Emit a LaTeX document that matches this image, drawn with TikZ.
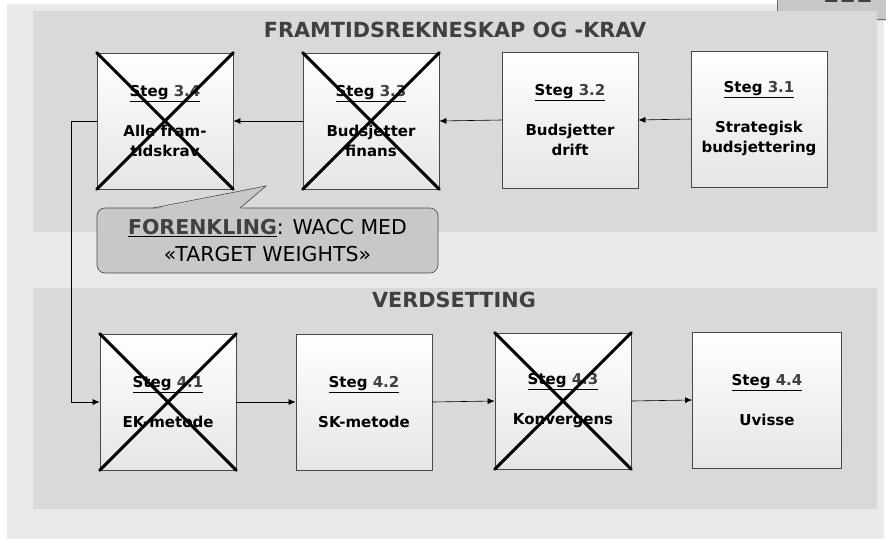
\documentclass[tikz,border=0pt]{standalone}
\usepackage{fontspec}
\setmainfont{DejaVu Sans}
\usepackage{tikz}
\usetikzlibrary{arrows.meta, positioning}
\definecolor{outerbg}{RGB}{234,234,234}
\definecolor{panelbg}{RGB}{217,217,217}
\definecolor{calloutfill}{RGB}{200,200,200}
\definecolor{titleink}{RGB}{64,64,64}
\definecolor{edgeink}{RGB}{72,72,72}
\tikzset{
  panel/.style={
    fill=panelbg,
    draw=none,
    anchor=north west,
    inner sep=0pt,
    outer sep=0pt
  },
  paneltitle/.style={
    font=\bfseries\fontsize{20.8}{24}\selectfont,
    text=titleink
  },
  stepbox/.style={
    draw=edgeink,
    thick,
    top color=white,
    bottom color=black!10,
    align=center,
    minimum width=136pt,
    minimum height=136pt,
    inner sep=2pt,
    font=\bfseries\fontsize{15}{20}\selectfont,
    text=black
  },
  callout/.style={
    draw=edgeink,
    semithick,
    rounded corners=8pt,
    fill=calloutfill,
    align=center,
    minimum width=341pt,
    minimum height=65pt,
    font=\fontsize{20.5}{27}\selectfont
  },
  tag/.style={
    draw=black!80,
    semithick,
    rounded corners=10pt,
    fill=calloutfill,
    minimum width=140pt,
    minimum height=41pt,
    inner sep=0pt,
    text height=24pt,
    text depth=17pt,
    font=\bfseries\fontsize{24}{26}\selectfont,
    text=titleink
  },
  arrow/.style={-{Latex[length=7pt,width=6pt]}, semithick, draw=black},
  cross/.style={line width=3pt, draw=black, line cap=round}
}

\begin{document}
\begin{tikzpicture}[x=1pt,y=-1pt]
    \clip (0,0) rectangle (886,539);
    \node[panel, fill=outerbg, minimum width=877pt, minimum height=535pt] (bg) at (7,4) {};
    \node[tag, anchor=south west] (tagbox) at (777,20) {111};

    % framtidsrekneskap
    \node[panel, minimum width=844pt, minimum height=221pt] (toppanel) at (33,11) {};
    \node[paneltitle] (toptitle) at (455,30) {FRAMTIDSREKNESKAP OG -KRAV};
    \node[stepbox] (s34) at (165,121) {\underline{Steg \textcolor{titleink}{3.4}}\\[20pt]Alle fram-\\tidskrav};
    \node[stepbox] (s33) at (371,121) {\underline{Steg \textcolor{titleink}{3.3}}\\[20pt]Budsjetter\\finans};
    \node[stepbox] (s32) at (570,120) {\underline{Steg \textcolor{titleink}{3.2}}\\[20pt]Budsjetter\\drift};
    \node[stepbox] (s31) at (759,119) {\underline{Steg \textcolor{titleink}{3.1}}\\[20pt]Strategisk\\budsjettering};

    % verdsetting
    \node[panel, minimum width=844pt, minimum height=221pt] (botpanel) at (33,288) {};
    \node[paneltitle] (bottitle) at (454,300) {VERDSETTING};
    \node[stepbox] (s41) at (168,402) {\underline{Steg \textcolor{titleink}{4.1}}\\[20pt]EK-metode};
    \node[stepbox] (s42) at (364,402) {\underline{Steg \textcolor{titleink}{4.2}}\\[20pt]SK-metode};
    \node[stepbox] (s43) at (563,401) {\underline{Steg \textcolor{titleink}{4.3}}\\[20pt]Konvergens};
    \node[stepbox, minimum width=149pt] (s44) at (767,400) {\underline{Steg \textcolor{titleink}{4.4}}\\[20pt]Uvisse};

    \draw[arrow] (s31.west) -- (s32.east);
    \draw[arrow] (s32.west) -- (s33.east);
    \draw[arrow] (s33.west) -- (s34.east);
    \draw[arrow] (s34.west) -- ++(-25,0) |- (s41.west);
    \draw[arrow] (s41.east) -- (s42.west);
    \draw[arrow] (s42.east) -- (s43.west);
    \draw[arrow] (s43.east) -- (s44.west);

    % strikes
    \draw[cross] (s34.north west) -- (s34.south east) (s34.north east) -- (s34.south west);
    \draw[cross] (s33.north west) -- (s33.south east) (s33.north east) -- (s33.south west);
    \draw[cross] (s41.north west) -- (s41.south east) (s41.north east) -- (s41.south west);
    \draw[cross] (s43.north west) -- (s43.south east) (s43.north east) -- (s43.south west);

    % simplification note
    \node[callout] (note) at (267.5,240.5) {\underline{\textbf{\textcolor{titleink}{FORENKLING}}}: WACC MED\\«TARGET WEIGHTS»};
    \coordinate (tip) at (266,186);
    \fill[calloutfill] (153,209.5) -- (tip) -- (240,209.5) -- cycle;
    \draw[edgeink, semithick] (153,208) -- (tip) -- (240,208);
  \end{tikzpicture}
\end{document}
